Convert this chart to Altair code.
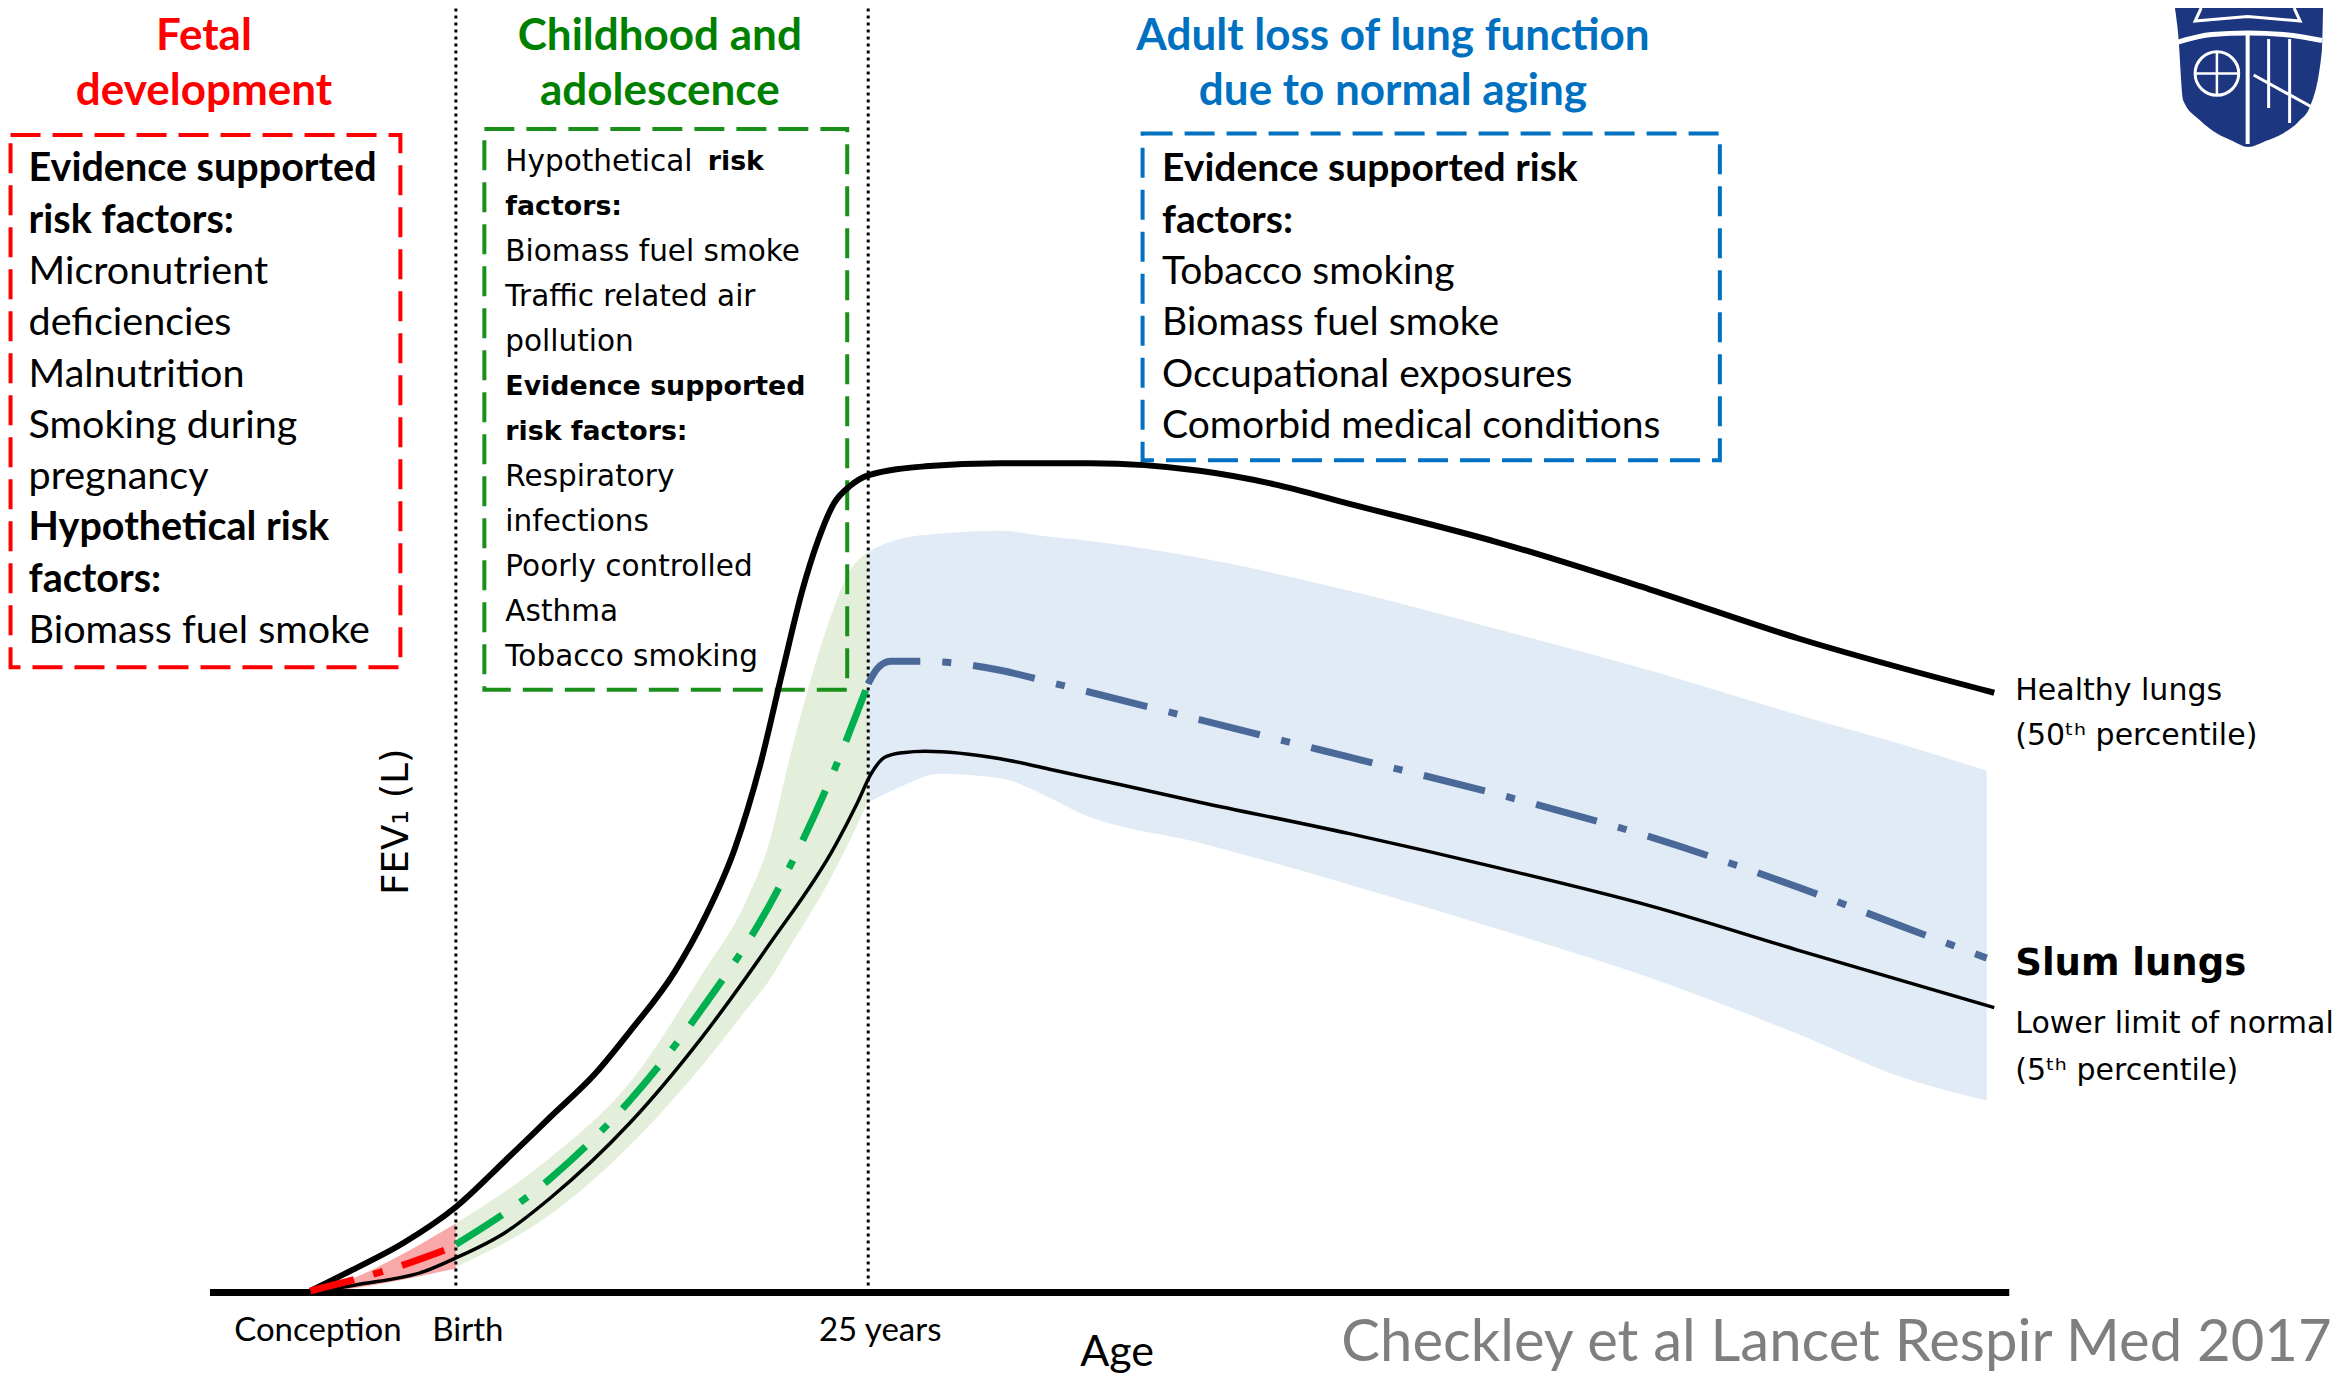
import altair as alt
import pandas as pd

# ---------------- curve data (schematic units: x = age position, y = FEV1 level) ----------------
healthy_x = [0, 28, 62, 97, 130, 160, 190, 213, 243, 263, 283, 300, 315, 328, 338, 349, 360, 372, 410, 460, 520, 593, 643, 693, 793, 893, 993, 1123]
healthy_y = [1, 15, 33, 57, 88, 117, 146, 174, 214, 250, 296, 352, 415, 468, 500, 526, 538, 545, 551, 553, 553, 548, 539, 526, 500, 469, 436, 400]

lln_x = [0, 30, 76, 97, 130, 160, 213, 261, 306, 350, 365, 374, 383, 395, 410, 460, 493, 593, 693, 793, 893, 993, 1123]
lln_y = [0, 5, 14, 23, 40, 63, 113, 170, 232, 298, 327, 346, 357, 360, 361, 356, 349, 327, 306, 283, 258, 228, 190]

fetal_mean_x = [0, 64, 97]
fetal_mean_y = [1, 19, 31]
fetal_band_x = [0, 30, 64, 97]
fetal_band_lo = [0, 3, 9, 16]
fetal_band_hi = [0, 10, 27, 46]

child_mean_x = [97, 160, 213, 261, 306, 350, 372]
child_mean_y = [32, 76, 128, 189, 258, 350, 406]
child_band_x = [97, 160, 213, 261, 291, 306, 320, 344, 359, 372]
child_band_lo = [17, 52, 98, 151, 189, 208, 231, 271, 300, 328]
child_band_hi = [46, 90, 140, 212, 262, 300, 358, 442, 480, 494]

adult_mean_x = [372, 378, 387, 407, 460, 493, 593, 693, 793, 893, 993, 1062, 1118]
adult_mean_y = [406, 416, 421, 421, 415, 407, 382, 357, 332, 304, 270, 244, 223]
adult_band_x = [372, 380, 395, 419, 460, 493, 513, 593, 693, 793, 893, 993, 1060, 1118]
adult_band_lo = [327, 331, 338, 346, 343, 330, 320, 300, 272, 242, 210, 172, 144, 128]
adult_band_hi = [494, 498, 503, 506, 508, 504, 502, 490, 468, 442, 415, 385, 366, 348]

# landmarks on the age axis
landmark_names = ["Conception", "Birth", "25 years"]
landmark_x = [0, 97, 372]
axis_start, axis_end = -67, 1133

# ---------------- text content ----------------
red_title = ["Fetal", "development"]
green_title = ["Childhood and", "adolescence"]
blue_title = ["Adult loss of lung function", "due to normal aging"]

red_box_text = ["Evidence supported", "risk factors:", "Micronutrient", "deficiencies", "Malnutrition",
                "Smoking during", "pregnancy", "Hypothetical risk", "factors:", "Biomass fuel smoke"]
red_box_bold = [True, True, False, False, False, False, False, True, True, False]

green_box_text = ["Hypothetical", "factors:", "Biomass fuel smoke", "Traffic related air", "pollution",
                  "Evidence supported", "risk factors:", "Respiratory", "infections", "Poorly controlled",
                  "Asthma", "Tobacco smoking"]
green_box_bold = [False, True, False, False, False, True, True, False, False, False, False, False]

blue_box_text = ["Evidence supported risk", "factors:", "Tobacco smoking", "Biomass fuel smoke",
                 "Occupational exposures", "Comorbid medical conditions"]
blue_box_bold = [True, True, False, False, False, False]

healthy_label = ["Healthy lungs", "(50ᵗʰ percentile)"]
lln_label = ["Lower limit of normal", "(5ᵗʰ percentile)"]
slum_label = "Slum lungs"
y_title = "FEV₁ (L)"
x_title = "Age"
citation = "Checkley et al Lancet Respir Med 2017"

# logo outline (shield)
shield_x = [1243.6, 1245.6, 1249, 1260, 1271.6, 1282, 1292.3, 1304, 1315.6, 1326, 1333.6, 1341.6, 1342.3]
shield_bottom = [856, 840, 795, 782, 773, 768, 764, 768, 773, 781, 791, 829, 856]

# ---------------- layout ----------------
PAD_TOP = 8
W, H = 2335, 1369 - PAD_TOP
Y_TOP = 856.7 - PAD_TOP / 1.4994
xs = alt.Scale(domain=[-201.7, 1355.6], nice=False, zero=False)
ys = alt.Scale(domain=[-56.4, Y_TOP], nice=False, zero=False)

RED, GREEN, GREEN_BOX, BLUE = "#ff0000", "#008000", "#1a8f1a", "#0070c0"
CAL = "Lato"
VER = "DejaVu Sans"


def X(f="x"):
    return alt.X(f"{f}:Q", scale=xs, axis=None)


def Y(f="y"):
    return alt.Y(f"{f}:Q", scale=ys, axis=None)


def line(xv, yv, color, width, dash=None, interp="monotone"):
    df = pd.DataFrame({"x": xv, "y": yv})
    kw = dict(color=color, strokeWidth=width, interpolate=interp, strokeCap="butt")
    if dash:
        kw["strokeDash"] = dash
    return alt.Chart(df).mark_line(**kw).encode(x=X(), y=Y())


def band(xv, lo, hi, color, opacity=1.0):
    df = pd.DataFrame({"x": xv, "lo": lo, "hi": hi})
    return alt.Chart(df).mark_area(color=color, opacity=opacity, interpolate="monotone").encode(
        x=X(), y=Y("hi"), y2=alt.Y2("lo"))


def texts(tx, xv, yv, size, font=CAL, color="black", weight="normal", align="left", angle=0):
    df = pd.DataFrame({"x": xv, "y": yv, "t": tx})
    kw = dict(fontSize=size, font=font, color=color, fontWeight=weight, align=align, baseline="middle")
    if angle:
        kw["angle"] = angle
    return alt.Chart(df).mark_text(**kw).encode(x=X(), y=Y(), text="t:N")


def box(x1, x2, y1, y2, color, dash):
    df = pd.DataFrame({"x": [x1], "x2": [x2], "y": [y1], "y2": [y2]})
    return alt.Chart(df).mark_rect(fillOpacity=0, stroke=color, strokeWidth=4, strokeDash=dash).encode(
        x=X(), x2=alt.X2("x2"), y=Y(), y2=alt.Y2("y2"))


def box_lines(lines, bold, x0, y0, step, size, font, bold_size=None):
    xv = [x0] * len(lines)
    yv = [y0 - i * step for i in range(len(lines))]
    reg = [i for i, b in enumerate(bold) if not b]
    bld = [i for i, b in enumerate(bold) if b]
    return [texts([lines[i] for i in reg], [xv[i] for i in reg], [yv[i] for i in reg], size, font),
            texts([lines[i] for i in bld], [xv[i] for i in bld], [yv[i] for i in bld],
                  bold_size or size, font, weight="bold")]


layers = []

# bands
layers.append(band(fetal_band_x, fetal_band_lo, fetal_band_hi, "#f8a8a8"))
layers.append(band(child_band_x, child_band_lo, child_band_hi, "#e3efdb"))
layers.append(band(adult_band_x, adult_band_lo, adult_band_hi, "#e0ebf6"))

# boxes
layers.append(box(-200, 60, 772, 417, RED, [30, 12]))
layers.append(box(116, 358, 776, 402, GREEN_BOX, [30, 12]))
layers.append(box(555, 940, 773, 555, BLUE, [30, 12]))

# vertical dotted guides (run up to the top edge of the page)
guide_df = pd.DataFrame({"x": landmark_x[1:], "y": [0, 0], "y2": [856.7, 856.7]})
layers.append(alt.Chart(guide_df).mark_rule(color="black", strokeWidth=3, strokeDash=[3, 4]).encode(
    x=X(), y=Y(), y2=alt.Y2("y2")))

# age axis baseline
base_df = pd.DataFrame({"x": [axis_start], "x2": [axis_end], "y": [0]})
layers.append(alt.Chart(base_df).mark_rule(color="black", strokeWidth=7).encode(x=X(), x2=alt.X2("x2"), y=Y()))

# curves
layers.append(line(healthy_x, healthy_y, "black", 6))
layers.append(line(lln_x, lln_y, "black", 3.5))
layers.append(line(fetal_mean_x, fetal_mean_y, RED, 7, [45, 20, 10, 20]))
layers.append(line(child_mean_x, child_mean_y, "#00b050", 7, [55, 22, 9, 22]))
layers.append(line(adult_mean_x, adult_mean_y, "#4a6999", 7, [63, 22, 9, 22]))

# titles
layers.append(texts(red_title, [-71, -71], [837.5, 801], 44, CAL, RED, "bold", "center"))
layers.append(texts(green_title, [233, 233], [837.5, 801], 44, CAL, GREEN, "bold", "center"))
layers.append(texts(blue_title, [722, 722], [837.5, 801], 44, CAL, BLUE, "bold", "center"))

# box texts
layers += box_lines(red_box_text, red_box_bold, -188, 749, 34.2, 39.5, CAL)
layers += box_lines(green_box_text, green_box_bold, 130, 754, 30, 29.5, VER, bold_size=26.8)
layers.append(texts(["risk"], [265], [754], 26.8, VER, weight="bold"))
layers += box_lines(blue_box_text, blue_box_bold, 568, 749, 34.2, 39, CAL)

# right-side labels
layers.append(texts(healthy_label, [1137, 1137], [401, 371], 30, VER))
layers.append(texts([slum_label], [1137], [219], 37, VER, weight="bold"))
layers.append(texts(lln_label, [1137, 1137], [179, 148], 30, VER))

# axis texts
layers.append(texts(landmark_names, [5, 105, 380], [-26, -26, -26], 33, CAL, align="center"))
layers.append(texts([x_title], [538], [-40.5], 43, CAL, align="center"))
layers.append(texts([y_title], [58], [314], 37, VER, align="center", angle=270))
layers.append(texts([citation], [1348], [-34.5], 58, CAL, "#7f7f7f", align="right"))

# logo
shield_df = pd.DataFrame({"x": shield_x, "top": [856.7] * len(shield_x), "bottom": shield_bottom})
layers.append(alt.Chart(shield_df).mark_area(color="#1d3680", interpolate="monotone").encode(
    x=X(), y=Y("top"), y2=alt.Y2("bottom")))
arc_df = pd.DataFrame({"x": [1245.6, 1268, 1292, 1316, 1341.6], "y": [834, 839, 840, 839, 835]})
layers.append(alt.Chart(arc_df).mark_line(color="white", strokeWidth=5, interpolate="monotone").encode(x=X(), y=Y()))
vert_df = pd.DataFrame({"x": [1292, 1292], "y": [840, 766]})
layers.append(alt.Chart(vert_df).mark_line(color="white", strokeWidth=4).encode(x=X(), y=Y()))
book_df = pd.DataFrame({"x": [1261, 1257, 1292, 1327, 1323], "y": [856.7, 848, 851, 848, 856.7], "o": [0, 1, 2, 3, 4]})
layers.append(alt.Chart(book_df).mark_line(color="white", strokeWidth=3).encode(
    x=X(), y=Y(), order="o:Q"))
globe_df = pd.DataFrame({"x": [1271.5], "y": [813]})
layers.append(alt.Chart(globe_df).mark_point(shape="circle", size=1900, stroke="white", strokeWidth=3,
                                             filled=False, opacity=1).encode(x=X(), y=Y()))
layers.append(alt.Chart(pd.DataFrame({"x": [1257, 1286], "y": [813, 813]})).mark_line(
    color="white", strokeWidth=2.5).encode(x=X(), y=Y()))
layers.append(alt.Chart(pd.DataFrame({"x": [1271.5, 1271.5], "y": [799, 827]})).mark_line(
    color="white", strokeWidth=2.5).encode(x=X(), y=Y()))
# Maryland-flag stripes on the right half of the shield
flag_df = pd.DataFrame({"x": [1306, 1306, 1320, 1320], "y": [836, 790, 836, 780], "g": ["a", "a", "b", "b"]})
layers.append(alt.Chart(flag_df).mark_line(color="white", strokeWidth=3).encode(x=X(), y=Y(), detail="g:N"))
diag_df = pd.DataFrame({"x": [1296, 1336], "y": [812, 790]})
layers.append(alt.Chart(diag_df).mark_line(color="white", strokeWidth=3).encode(x=X(), y=Y()))

chart = alt.layer(*layers).properties(
    width=W, height=H, padding={"left": 0, "top": PAD_TOP, "right": 0, "bottom": 0}, autosize="none"
).configure_view(strokeWidth=0)

chart.save("out.html", embed_options={"renderer": "svg", "actions": False})
